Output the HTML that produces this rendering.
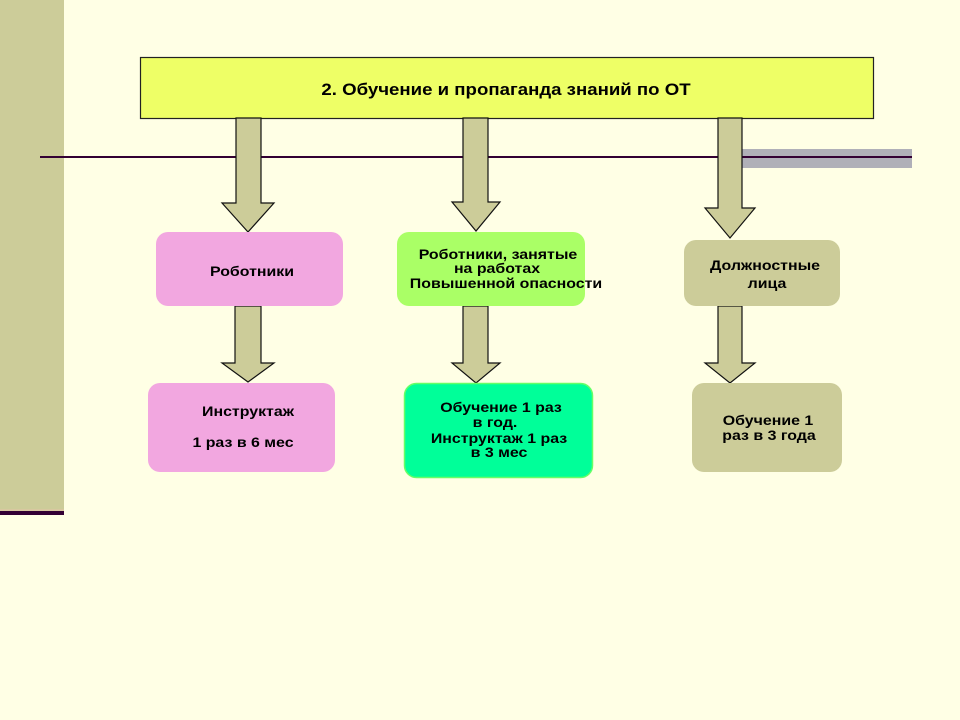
<!DOCTYPE html>
<html><head><meta charset="utf-8"><style>
html,body{margin:0;padding:0;background:#ffffe5;}
svg{display:block;}
text{font-family:"Liberation Sans",sans-serif;font-weight:bold;fill:#000;text-anchor:middle;}
</style></head><body>
<svg width="960" height="720" viewBox="0 0 960 720" xmlns="http://www.w3.org/2000/svg">
<rect x="0" y="0" width="960" height="720" fill="#ffffe5"/>
<rect x="0" y="0" width="64" height="509" fill="#cccc99"/>
<rect x="0" y="509" width="64" height="2" fill="#d8c8a0"/>
<rect x="0" y="511" width="64" height="4" fill="#330033"/>
<rect x="720" y="149" width="192" height="19" fill="#b0b0b8"/>
<rect x="40" y="156" width="872" height="2" fill="#330033"/>
<rect x="140.5" y="57.5" width="733" height="61" fill="#eeff66" stroke="#222" stroke-width="1.2"/>
<g transform="translate(506,95) scale(1.13,1)"><text x="0" y="0" font-size="16.5">2. Обучение и пропаганда знаний по ОТ</text></g>
<g fill="#cccc99" stroke="#111" stroke-width="1.2">
<polygon points="236,118 261,118 261,203 274,203 248,232 222,203 236,203"/>
<polygon points="463,118 488,118 488,202 500,202 476,231 452,202 463,202"/>
<polygon points="718,118 742,118 742,208 755,208 730,238 705,208 718,208"/>
<polygon points="235,306 261,306 261,363 274,363 248,382 222,363 235,363"/>
<polygon points="463,306 488,306 488,363 500,363 476,383 452,363 463,363"/>
<polygon points="718,306 742,306 742,363 755,363 730,383 705,363 718,363"/>
</g>
<rect x="156" y="232" width="187" height="74" rx="12" fill="#f2a7e0"/>
<rect x="397" y="232" width="188" height="74" rx="12" fill="#aaff66"/>
<rect x="684" y="240" width="156" height="66" rx="12" fill="#cccc99"/>
<rect x="148" y="383" width="187" height="89" rx="12" fill="#f2a7e0"/>
<rect x="404.5" y="383.5" width="188" height="94" rx="12" fill="#00ff99" stroke="#66ff66" stroke-width="1.5"/>
<rect x="692" y="383" width="150" height="89" rx="12" fill="#cccc99"/>
<g font-size="13.5">
<g transform="translate(252,276) scale(1.18,1)"><text x="0" y="0">Роботники</text></g>
<g transform="translate(498,259) scale(1.18,1)"><text x="0" y="0">Роботники, занятые</text></g>
<g transform="translate(497,273) scale(1.18,1)"><text x="0" y="0">на работах</text></g>
<g transform="translate(506,288) scale(1.18,1)"><text x="0" y="0">Повышенной опасности</text></g>
<g transform="translate(765,270) scale(1.18,1)"><text x="0" y="0">Должностные</text></g>
<g transform="translate(767,288) scale(1.18,1)"><text x="0" y="0">лица</text></g>
<g transform="translate(248,416) scale(1.18,1)"><text x="0" y="0">Инструктаж</text></g>
<g transform="translate(243,447) scale(1.18,1)"><text x="0" y="0">1 раз в 6 мес</text></g>
<g transform="translate(501,412) scale(1.18,1)"><text x="0" y="0">Обучение 1 раз</text></g>
<g transform="translate(495,427) scale(1.18,1)"><text x="0" y="0">в год.</text></g>
<g transform="translate(499,443) scale(1.18,1)"><text x="0" y="0">Инструктаж 1 раз</text></g>
<g transform="translate(499,457) scale(1.18,1)"><text x="0" y="0">в 3 мес</text></g>
<g transform="translate(768,425) scale(1.18,1)"><text x="0" y="0">Обучение 1</text></g>
<g transform="translate(769,440) scale(1.18,1)"><text x="0" y="0">раз  в 3 года</text></g>
</g>
</svg>
</body></html>
